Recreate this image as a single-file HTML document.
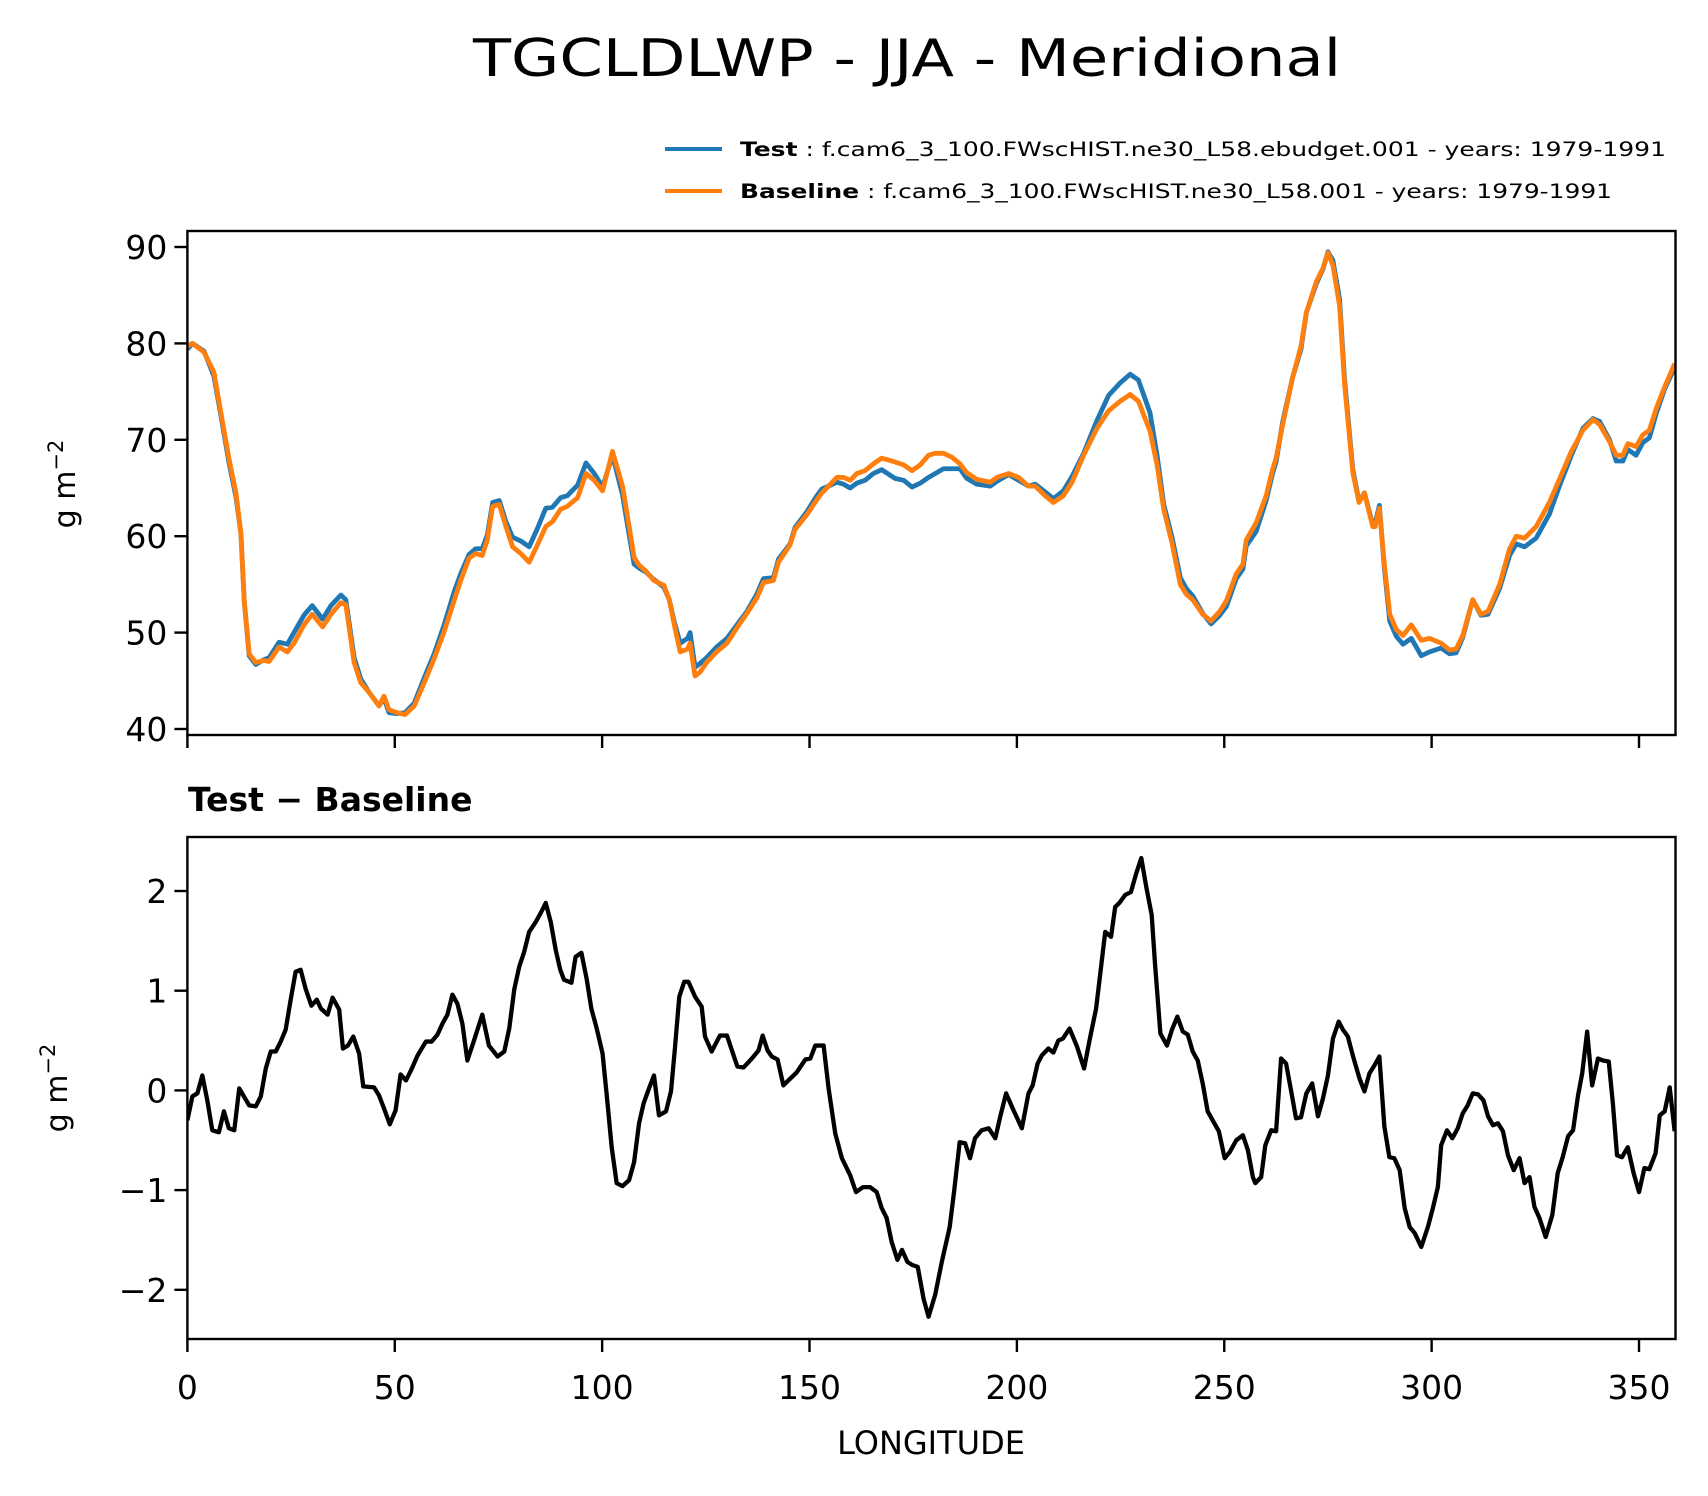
<!DOCTYPE html>
<html><head><meta charset="utf-8"><title>TGCLDLWP - JJA - Meridional</title>
<style>
html,body{margin:0;padding:0;background:#fff;}
svg{display:block;font-family:"DejaVu Sans","Liberation Sans",sans-serif;}
</style></head>
<body>
<svg id="fig" width="1708" height="1496" viewBox="0 0 1708 1496" xmlns="http://www.w3.org/2000/svg">
<rect width="1708" height="1496" fill="#fff"/>
<text x="907" y="76" font-size="52" text-anchor="middle" textLength="868" lengthAdjust="spacingAndGlyphs">TGCLDLWP - JJA - Meridional</text>
<g>
<line x1="665" y1="149" x2="722" y2="149" stroke="#1f77b4" stroke-width="4"/>
<text x="740" y="156" font-size="19.5" textLength="926" lengthAdjust="spacingAndGlyphs"><tspan font-weight="bold">Test</tspan> : f.cam6_3_100.FWscHIST.ne30_L58.ebudget.001 - years: 1979-1991</text>
<line x1="665" y1="191" x2="722" y2="191" stroke="#ff7f0e" stroke-width="4"/>
<text x="740" y="198" font-size="19.5" textLength="872" lengthAdjust="spacingAndGlyphs"><tspan font-weight="bold">Baseline</tspan> : f.cam6_3_100.FWscHIST.ne30_L58.001 - years: 1979-1991</text>
</g>
<g id="top"></g>
<g id="bot"></g>
<text x="188" y="811" font-size="33" font-weight="bold">Test − Baseline</text>
<text transform="translate(75,484) rotate(-90)" font-size="30" text-anchor="middle">g m<tspan dy="-12" font-size="21">−2</tspan></text>
<text transform="translate(67,1088) rotate(-90)" font-size="30" text-anchor="middle">g m<tspan dy="-12" font-size="21">−2</tspan></text>
<text x="931" y="1454" font-size="32" text-anchor="middle">LONGITUDE</text>
</svg>
<script>
const topLon = [0,1.2,4.0,6.4,8.0,10.0,11.7,12.9,13.7,14.9,16.5,18.5,19.7,22.1,24.1,25.7,28.1,30.1,32.6,34.6,37.0,38.2,40.2,41.8,43.8,46.2,47.4,48.6,50.5,52.5,54.7,57.1,59.5,61.9,64.3,65.9,67.9,69.5,71.1,72.3,73.6,75.2,76.8,78.4,80.4,82.4,84.4,86.4,88.0,90.0,91.6,94.1,96.1,98.1,100.1,102.5,104.9,106.1,107.7,108.9,110.5,112.5,114.9,116.2,117.4,118.8,120.6,121.2,122.4,123.6,125.2,127.6,130.1,132.5,134.9,137.3,138.9,141.3,142.5,145.3,146.5,149.3,151.8,153.0,154.6,156.6,158.2,159.8,161.4,163.4,165.4,167.4,170.6,172.7,174.7,176.7,178.7,180.3,182.3,184.3,186.3,187.9,190.3,193.6,195.2,198.0,200.4,202.8,204.4,206.8,208.8,211.2,213.3,216.1,219.3,222.1,224.9,227.3,229.3,232.1,233.8,235.4,237.4,239.4,240.8,242.4,244.8,246.8,248.9,250.5,252.9,254.5,255.3,257.7,260.1,261.7,262.5,264.1,266.5,268.5,269.8,272.2,273.8,275.0,276.2,277.8,279.0,281.0,282.5,283.8,285.8,286.4,287.4,288.6,289.9,291.5,293.1,295.1,297.5,299.5,302.3,304.3,305.9,307.5,309.9,311.9,313.6,316.4,318.8,320.4,322.4,325.2,328.4,330.8,333.7,336.5,338.9,340.5,342.9,344.5,346.1,347.3,349.3,350.9,352.5,354.2,356.2,358.6];
const baseline = [79.7,80.0,79.1,77.0,73.0,68.1,64.5,60.3,53.3,47.8,46.9,47.1,47.0,48.5,48.0,48.9,50.8,51.9,50.6,51.9,53.1,52.9,46.9,44.8,43.8,42.4,43.4,42.0,41.7,41.5,42.4,44.8,47.3,50.1,53.3,55.4,57.7,58.2,58.0,59.6,63.1,63.3,61.0,58.9,58.2,57.3,59.1,61.0,61.5,62.8,63.1,64.0,66.5,65.8,64.7,68.8,65.2,62.1,57.8,57.0,56.4,55.4,54.9,53.4,50.8,48.0,48.3,48.9,45.5,45.9,46.9,48.0,48.9,50.5,52.0,53.6,55.2,55.4,57.3,59.1,60.7,62.2,63.8,64.5,65.2,66.1,66.1,65.8,66.5,66.8,67.5,68.1,67.7,67.4,66.8,67.4,68.4,68.6,68.6,68.2,67.5,66.6,65.9,65.6,66.1,66.5,66.1,65.2,65.2,64.2,63.5,64.2,65.6,68.4,71.2,73.0,74.0,74.7,74.0,70.9,67.4,62.8,59.3,55.0,54.0,53.4,51.9,51.2,52.2,53.3,56.1,57.1,59.6,61.4,64.2,67.0,68.1,71.6,76.5,79.7,83.2,86.4,87.8,89.4,88.1,83.9,75.8,66.6,63.5,64.5,61.0,61.0,62.9,57.1,51.9,50.3,49.7,50.8,49.2,49.4,48.9,48.2,48.3,49.7,53.4,51.9,52.2,55.0,58.7,60.0,59.8,61.0,63.5,65.9,68.8,71.0,72.1,71.6,69.8,68.4,68.4,69.6,69.3,70.5,71.0,73.3,75.5,77.9];
const test = [79.4,80.0,79.2,76.6,72.7,67.7,64.1,60.3,53.3,47.6,46.7,47.2,47.4,49.0,48.8,50.0,51.8,52.8,51.4,52.8,53.9,53.4,47.4,45.2,43.8,42.4,43.2,41.7,41.6,41.7,42.7,45.3,47.8,50.8,54.2,56.1,58.1,58.7,58.7,60.1,63.5,63.7,61.5,59.9,59.5,58.9,60.8,62.9,63.0,64.0,64.2,65.3,67.6,66.5,65.1,68.4,64.3,61.2,57.1,56.7,56.3,55.5,54.7,53.4,51.1,48.9,49.4,50.0,46.4,46.8,47.4,48.5,49.4,50.8,52.2,54.0,55.6,55.7,57.6,59.2,60.9,62.5,64.2,64.9,65.2,65.6,65.4,65.0,65.5,65.8,66.5,66.9,66.0,65.8,65.1,65.5,66.1,66.5,67.0,67.0,67.0,66.0,65.4,65.2,65.7,66.4,65.8,65.2,65.4,64.6,63.9,64.7,66.2,68.6,72.0,74.6,75.9,76.8,76.2,72.8,68.4,63.3,59.9,55.7,54.6,53.8,52.0,50.9,51.8,52.7,55.6,56.6,59.0,60.5,63.7,66.6,67.7,71.9,76.5,79.4,83.2,86.2,87.7,89.5,88.6,84.6,76.3,66.9,63.6,64.5,61.2,61.3,63.2,56.7,51.2,49.6,48.8,49.4,47.6,48.0,48.4,47.8,47.9,49.5,53.4,51.8,51.9,54.6,58.0,59.2,58.9,59.8,62.3,65.2,68.4,71.2,72.2,71.9,70.0,67.8,67.8,69.0,68.4,69.7,70.2,72.8,75.3,77.5];
const diffLon = [0,1.2,2.4,3.6,4.8,6.0,7.6,8.8,10.0,11.3,12.5,14.9,16.5,17.7,18.9,20.1,21.3,22.5,23.7,24.9,26.1,27.3,28.5,29.9,31.2,32.2,33.8,35.0,36.6,37.5,38.7,40.0,41.4,42.4,45.0,46.2,47.4,48.8,50.2,51.4,52.7,53.9,55.5,57.5,58.9,60.3,61.5,62.7,63.9,65.1,66.3,67.5,69.1,71.1,72.7,74.8,76.4,77.6,78.8,80.0,81.2,82.4,84.0,85.2,86.4,87.6,88.8,89.9,90.8,92.6,93.6,95.0,96.3,97.4,98.7,100.1,101.3,102.3,103.5,104.9,106.5,107.7,108.9,110.0,111.3,112.5,113.7,115.4,116.6,117.5,118.6,119.8,120.8,122.4,124.0,124.8,126.4,128.4,130.1,131.3,132.6,134.1,136.1,137.7,138.7,139.9,140.9,142.3,143.7,144.9,146.9,149.0,150.2,151.4,153.4,154.6,156.2,157.8,159.8,161.2,162.9,164.6,166.2,167.4,168.6,169.8,171.2,172.3,173.6,174.7,176.1,177.5,178.7,180.3,181.9,183.8,184.9,186.2,187.5,188.7,189.9,191.5,193.2,194.8,196.0,197.4,199.2,201.2,202.8,203.8,205.0,206.0,207.6,208.8,210.0,211.1,212.7,214.5,216.2,217.7,219.1,220.1,221.3,222.7,223.7,224.7,226.1,227.5,228.8,230.0,231.2,232.5,233.3,234.6,236.2,237.4,238.7,240.0,241.2,242.4,243.6,244.8,246.0,247.2,248.7,250.1,251.3,252.9,254.5,255.7,256.9,257.5,258.9,259.9,261.3,262.5,263.7,264.9,266.1,267.3,268.5,269.8,271.2,272.6,273.8,275.0,276.2,277.6,278.6,279.8,281.0,282.6,283.8,285.0,286.2,287.4,288.6,289.8,291.0,292.3,293.5,294.7,295.9,297.5,299.1,300.3,301.5,302.3,303.7,305.0,306.3,307.5,308.7,309.9,311.2,312.5,313.6,314.8,316.0,317.2,318.4,319.8,321.2,322.4,323.6,324.8,326.0,327.5,329.1,330.4,331.6,332.9,334.1,335.3,336.3,337.5,338.7,340.1,341.3,342.7,343.7,344.7,345.9,347.3,348.7,350.0,351.3,352.5,354.0,355.0,356.2,357.4,358.6];
const diffVal = [-0.30,-0.06,-0.03,0.15,-0.10,-0.40,-0.42,-0.21,-0.38,-0.40,0.02,-0.15,-0.16,-0.06,0.22,0.39,0.39,0.49,0.61,0.91,1.19,1.21,1.02,0.85,0.91,0.82,0.76,0.93,0.81,0.42,0.45,0.54,0.37,0.04,0.03,-0.05,-0.18,-0.34,-0.20,0.16,0.10,0.20,0.35,0.49,0.49,0.56,0.67,0.76,0.96,0.87,0.67,0.30,0.50,0.76,0.45,0.34,0.39,0.62,1.01,1.24,1.39,1.59,1.69,1.78,1.88,1.69,1.41,1.21,1.11,1.08,1.34,1.38,1.11,0.82,0.62,0.37,-0.13,-0.57,-0.93,-0.96,-0.90,-0.72,-0.33,-0.13,0.02,0.15,-0.25,-0.21,-0.01,0.40,0.94,1.09,1.09,0.94,0.84,0.54,0.39,0.55,0.55,0.40,0.24,0.23,0.32,0.40,0.55,0.40,0.34,0.31,0.05,0.10,0.18,0.31,0.32,0.45,0.45,0.02,-0.43,-0.68,-0.85,-1.02,-0.97,-0.97,-1.02,-1.18,-1.28,-1.52,-1.70,-1.60,-1.72,-1.75,-1.77,-2.09,-2.27,-2.05,-1.72,-1.37,-1.00,-0.52,-0.53,-0.68,-0.48,-0.40,-0.38,-0.48,-0.26,-0.03,-0.20,-0.38,-0.03,0.05,0.27,0.35,0.42,0.38,0.50,0.52,0.62,0.44,0.22,0.54,0.82,1.17,1.59,1.54,1.84,1.88,1.96,1.99,2.18,2.33,2.04,1.76,1.27,0.57,0.45,0.61,0.74,0.59,0.56,0.39,0.30,0.07,-0.21,-0.30,-0.41,-0.68,-0.62,-0.50,-0.45,-0.60,-0.87,-0.93,-0.87,-0.55,-0.40,-0.41,0.32,0.27,0.00,-0.28,-0.27,-0.03,0.07,-0.26,-0.08,0.15,0.52,0.69,0.61,0.54,0.35,0.12,-0.01,0.17,0.25,0.34,-0.36,-0.67,-0.68,-0.80,-1.18,-1.37,-1.43,-1.57,-1.37,-1.18,-0.97,-0.55,-0.40,-0.48,-0.38,-0.23,-0.15,-0.03,-0.04,-0.10,-0.26,-0.35,-0.33,-0.41,-0.65,-0.80,-0.68,-0.93,-0.87,-1.17,-1.28,-1.47,-1.25,-0.83,-0.67,-0.46,-0.40,-0.05,0.17,0.59,0.05,0.32,0.30,0.29,-0.13,-0.65,-0.67,-0.57,-0.83,-1.02,-0.78,-0.79,-0.63,-0.25,-0.21,0.03,-0.41];
const xTicks = [0,50,100,150,200,250,300,350];
const topYTicks = [40,50,60,70,80,90];
const botYTicks = [-2,-1,0,1,2];
const botYLabels = ["−2","−1","0","1","2"];

const NS = "http://www.w3.org/2000/svg";
const L = 187.4, R = 1675.5, XMAX = 358.8;
const xs = v => L + v * (R - L) / XMAX;
const topY = v => 729 - (v - 40) * (482 / 50);
const botY = v => 1090.4 - v * 99.7;
function mk(tag, attrs, parent) {
  const el = document.createElementNS(NS, tag);
  for (const k in attrs) el.setAttribute(k, attrs[k]);
  parent.appendChild(el);
  return el;
}
function line(lons, vals, yf) {
  return lons.map((l, i) => (i ? "L" : "M") + xs(l).toFixed(2) + "," + yf(vals[i]).toFixed(2)).join(" ");
}
function panel(g, top, bot, yTicks, yLabels, yf, showX) {
  const cp = mk("clipPath", {id: g.id + "-clip"}, g);
  mk("rect", {x: L, y: top, width: R - L, height: bot - top}, cp);
  xTicks.forEach(t => {
    const tk = mk("line", {x1: xs(t), x2: xs(t), y1: bot, y2: bot + 13, stroke: "#000", "stroke-width": 2.4}, g);
    
    
    if (showX) {
      const tx = mk("text", {x: xs(t), y: bot + 60, "font-size": 33, "text-anchor": "middle"}, g);
      tx.textContent = String(t);
      
      
    }
  });
  yTicks.forEach((t, i) => {
    const tk = mk("line", {x1: L - 13, x2: L, y1: yf(t), y2: yf(t), stroke: "#000", "stroke-width": 2.4}, g);
    
    
    const tx = mk("text", {x: L - 20, y: yf(t) + 12, "font-size": 33, "text-anchor": "end"}, g);
    tx.textContent = yLabels[i];
    
    
  });
  return g.id + "-clip";
}
const gt = document.getElementById("top");
const ct = panel(gt, 231, 735, topYTicks, topYTicks.map(String), topY, false);
const pTest = mk("path", {d: line(topLon, test, topY), fill: "none", stroke: "#1f77b4", "stroke-width": 4.8, "stroke-linejoin": "round", "clip-path": "url(#" + ct + ")"}, gt);


const pBase = mk("path", {d: line(topLon, baseline, topY), fill: "none", stroke: "#ff7f0e", "stroke-width": 4.8, "stroke-linejoin": "round", "clip-path": "url(#" + ct + ")"}, gt);


const fr1 = mk("rect", {x: L, y: 231, width: R - L, height: 504, fill: "none", stroke: "#000", "stroke-width": 2.4}, gt);



const gb = document.getElementById("bot");
const cb = panel(gb, 837, 1339, botYTicks, botYLabels, botY, true);
const pDiff = mk("path", {d: line(diffLon, diffVal, botY), fill: "none", stroke: "#000", "stroke-width": 4.3, "stroke-linejoin": "round", "clip-path": "url(#" + cb + ")"}, gb);


const fr2 = mk("rect", {x: L, y: 837, width: R - L, height: 502, fill: "none", stroke: "#000", "stroke-width": 2.4}, gb);


</script>
</body></html>
